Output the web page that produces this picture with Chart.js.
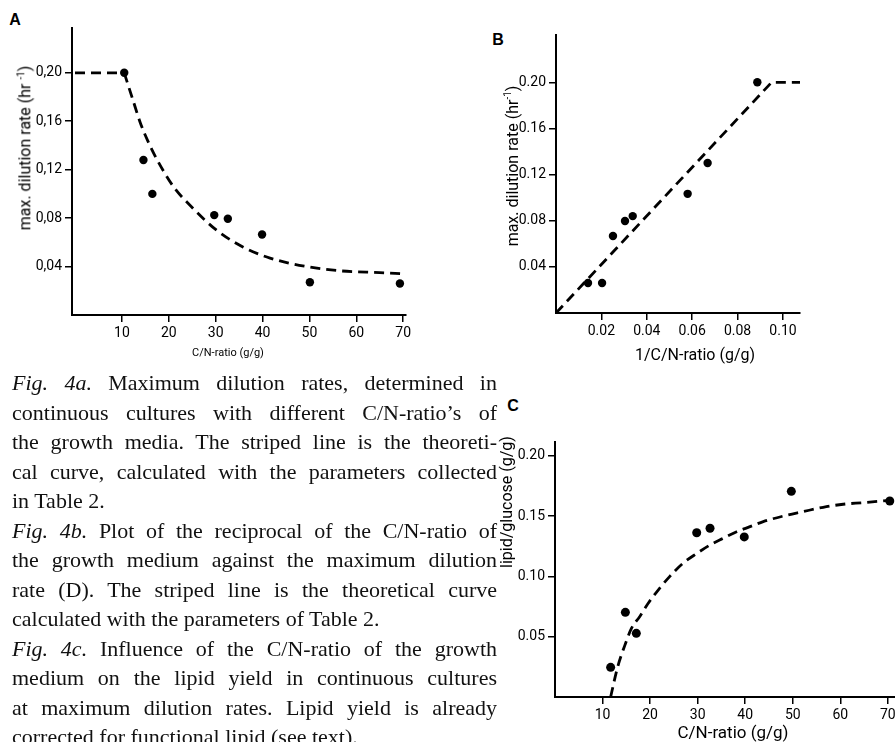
<!DOCTYPE html>
<html><head><meta charset="utf-8">
<script src="https://cdn.jsdelivr.net/npm/chart.js@4"></script>
<style>
body{margin:0;width:895px;height:742px;background:#fff;position:relative;overflow:hidden;}
.wrap{position:absolute;}
.t{position:absolute;font-family:Roboto,"DejaVu Sans",sans-serif;color:#000;white-space:nowrap;line-height:1;}
.rot{transform:translate(-50%,-50%) rotate(-90deg);}
.ctr{transform:translate(-50%,-50%);}
.lbl{position:absolute;font-family:"Liberation Sans",Arial,sans-serif;font-weight:bold;font-size:16px;transform:translate(-50%,-50%);line-height:1;}
.cap{position:absolute;left:12px;top:368px;width:485px;font-family:"Liberation Serif",serif;font-size:22px;line-height:29.5px;color:#111;}
.cap div{white-space:nowrap;}
.cap .j{text-align:justify;text-align-last:justify;white-space:normal;}
</style></head><body>

<div class="lbl" style="left:15px;top:20px">A</div>
<div class="lbl" style="left:498px;top:40px">B</div>
<div class="lbl" style="left:513px;top:406px">C</div>

<div class="wrap" style="left:0;top:0"><canvas id="cA" width="420" height="370"></canvas></div>
<div class="wrap" style="left:480px;top:0"><canvas id="cB" width="340" height="380"></canvas></div>
<div class="wrap" style="left:480px;top:380px"><canvas id="cC" width="430" height="362"></canvas></div>

<div class="t rot" style="left:25px;top:148px;font-size:16px">max. dilution rate (hr <sup style="font-size:10px">-1</sup>)</div>
<div class="t ctr" style="left:228px;top:352px;font-size:11px">C/N-ratio (g/g)</div>
<div class="t rot" style="left:512px;top:166px;font-size:16px">max. dilution rate (hr<sup style="font-size:10px">-1</sup>)</div>
<div class="t ctr" style="left:695px;top:355px;font-size:16px">1/C/N-ratio (g/g)</div>
<div class="t rot" style="left:507px;top:502px;font-size:16px">lipid/glucose (g/g)</div>
<div class="t ctr" style="left:733px;top:732px;font-size:17px">C/N-ratio (g/g)</div>

<div class="cap">
<div class="j"><i>Fig. 4a.</i> Maximum dilution rates, determined in</div>
<div class="j">continuous cultures with different C/N-ratio’s of</div>
<div class="j">the growth media. The striped line is the theoreti-</div>
<div class="j">cal curve, calculated with the parameters collected</div>
<div>in Table 2.</div>
<div class="j"><i>Fig. 4b.</i> Plot of the reciprocal of the C/N-ratio of</div>
<div class="j">the growth medium against the maximum dilution</div>
<div class="j">rate (D). The striped line is the theoretical curve</div>
<div>calculated with the parameters of Table 2.</div>
<div class="j"><i>Fig. 4c.</i> Influence of the C/N-ratio of the growth</div>
<div class="j">medium on the lipid yield in continuous cultures</div>
<div class="j">at maximum dilution rates. Lipid yield is already</div>
<div>corrected for functional lipid (see text).</div>
</div>

<script>
// ---- Panel A: max dilution rate vs C/N-ratio ----
const cnRatioA = [10.5, 14.6, 16.5, 29.7, 32.6, 39.9, 50.1, 69.3];
const maxDilutionA = [0.200, 0.128, 0.100, 0.0825, 0.0795, 0.0665, 0.027, 0.026];
const plateauA_x = [0, 10.5];
const plateauA_y = [0.200, 0.200];
const curveA_x = [10.5, 12.4, 14.0, 15.5, 17.4, 21.0, 25.2, 30.2, 35.9, 41.6, 49.4, 56.5, 65.0, 70.6];
const curveA_y = [0.200, 0.177, 0.158, 0.144, 0.129, 0.106, 0.088, 0.070, 0.056, 0.047, 0.040, 0.0365, 0.035, 0.034];
const xTicksA = [10, 20, 30, 40, 50, 60, 70];
const yTicksA = [0.04, 0.08, 0.12, 0.16, 0.20];

// ---- Panel B: max dilution rate vs 1/(C/N-ratio) ----
const recipB = [0.0141, 0.0203, 0.0251, 0.0304, 0.0338, 0.058, 0.0668, 0.0887];
const maxDilutionB = [0.026, 0.026, 0.0667, 0.0797, 0.084, 0.1033, 0.130, 0.200];
const lineB_x = [0, 0.095, 0.1075];
const lineB_y = [0, 0.200, 0.200];
const xTicksB = [0.02, 0.04, 0.06, 0.08, 0.10];
const yTicksB = [0.04, 0.08, 0.12, 0.16, 0.20];

// ---- Panel C: lipid/glucose vs C/N-ratio ----
const cnRatioC = [11.7, 14.8, 17.1, 29.8, 32.6, 39.8, 49.7, 70.4];
const lipidC = [0.0246, 0.0702, 0.0528, 0.1362, 0.1399, 0.1327, 0.1705, 0.1625];
const curveC_x = [11.7, 13.1, 14.7, 16.1, 17.8, 19.6, 21.7, 24.1, 26.9, 29.8, 32.6, 35.4, 38.2, 41.0, 43.8, 48.0, 52.2, 56.4, 60.6, 64.8, 71.1];
const curveC_y = [0.0, 0.0238, 0.043, 0.057, 0.0666, 0.0777, 0.0887, 0.0998, 0.1108, 0.119, 0.126, 0.1316, 0.137, 0.1412, 0.1454, 0.150, 0.1537, 0.1573, 0.1598, 0.1611, 0.1633];
const xTicksC = [10, 20, 30, 40, 50, 60, 70];
const yTicksC = [0.05, 0.10, 0.15, 0.20];

const FONT = 'Roboto, "DejaVu Sans", sans-serif';
const pts = (xs, ys) => xs.map((x, i) => ({x, y: ys[i]}));

function axis(min, max, ticks, fmt, size, vertical, fontSize) {
  return {
    type: 'linear', min, max,
    afterBuildTicks: s => { s.ticks = ticks.map(v => ({value: v})); },
    afterFit: s => { if (vertical) s.width = size; else s.height = size; },
    ticks: {color: '#000', font: {family: FONT, size: fontSize}, padding: 3,
            autoSkip: false, maxRotation: 0, callback: v => fmt(v)},
    grid: {display: true, drawOnChartArea: false, drawTicks: true, tickLength: 7,
           color: '#000', lineWidth: 1.5},
    border: {display: true, color: '#000', width: 2}
  };
}
function scatterDs(xs, ys, r) {
  return {type: 'scatter', data: pts(xs, ys), pointRadius: r, pointHoverRadius: r,
          backgroundColor: '#000', borderColor: '#000', borderWidth: 0, clip: false};
}
function dashDs(xs, ys, mono) {
  return {type: 'line', data: pts(xs, ys), borderColor: '#000', borderWidth: 2.8,
          borderDash: [10, 6], pointRadius: 0, fill: false, clip: false,
          cubicInterpolationMode: mono ? 'monotone' : 'default', tension: 0};
}
function make(id, datasets, xs, ys, pad) {
  new Chart(document.getElementById(id), {
    type: 'scatter',
    data: {datasets},
    options: {
      responsive: false, animation: false, devicePixelRatio: 1,
      layout: {padding: pad, autoPadding: false},
      plugins: {legend: {display: false}, tooltip: {enabled: false}},
      scales: {x: xs, y: ys}
    }
  });
}
const comma = v => v.toFixed(2).replace('.', ',');
const dot = v => v.toFixed(2);
const intf = v => String(Math.round(v));

make('cA',
  [scatterDs(cnRatioA, maxDilutionA, 4.2), dashDs(plateauA_x, plateauA_y, false), dashDs(curveA_x, curveA_y, true)],
  axis(-0.64, 70.6, xTicksA, intf, 55, false, 14),
  axis(0, 0.237, yTicksA, comma, 72, true, 14),
  {left: 0, top: 28, right: 14, bottom: 0});

make('cB',
  [scatterDs(recipB, maxDilutionB, 4.2), dashDs(lineB_x, lineB_y, false)],
  axis(0, 0.1075, xTicksB, dot, 67, false, 14),
  axis(0, 0.241, yTicksB, dot, 76, true, 14),
  {left: 0, top: 35, right: 20, bottom: 0});

make('cC',
  [scatterDs(cnRatioC, lipidC, 4.5), dashDs(curveC_x, curveC_y, true)],
  axis(0, 71.5, xTicksC, intf, 45, false, 14),
  axis(0, 0.2114, yTicksC, dot, 75, true, 14),
  {left: 0, top: 62, right: 15, bottom: 0});
</script>
</body></html>
